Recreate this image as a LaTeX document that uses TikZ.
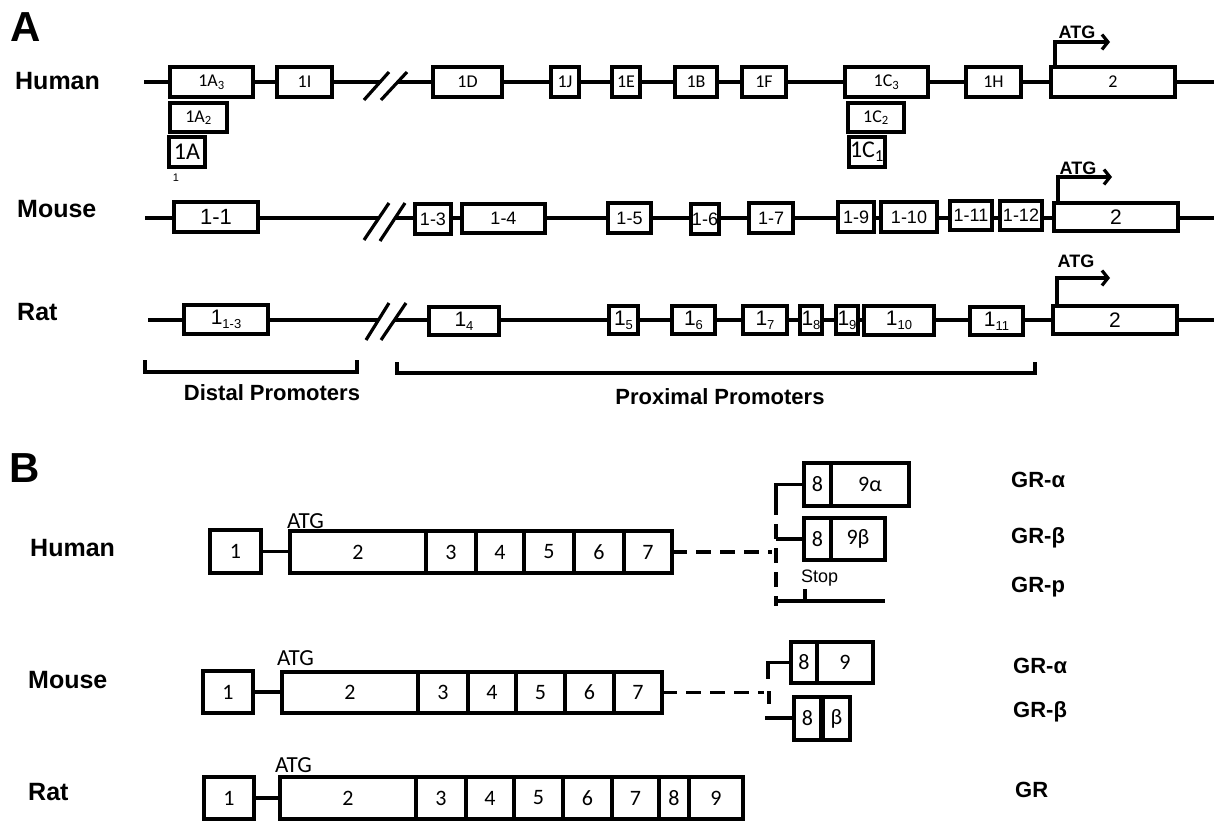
\documentclass[tikz,border=0pt]{standalone}
\usepackage{fontspec}
\setmainfont{Liberation Sans}
\newfontfamily\carl{Carlito}
\usetikzlibrary{arrows.meta,backgrounds}
\newcommand\fsz[1]{\fontsize{#1}{#1}\selectfont}
\newcommand\rsub[1]{\raisebox{-4pt}{\fsz{13}#1}}
\newcommand\gx[7][]{\node[exon,#1,minimum width={(#4)-(#3)},minimum height={(#6)-(#5)}] (#2) at ({((#3)+(#4))/2},{((#5)+(#6))/2}) {#7};}
\begin{document}
\begin{tikzpicture}[x=1pt,y=-1pt,
  exon/.style={draw,line width=3.2pt,fill=white,inner sep=0pt,outer sep=0pt},
  ah/.style={font=\carl\fsz{18}},
  ahbig/.style={font=\carl\fsz{24}},
  am/.style={font=\fsz{18}},
  ar/.style={font=\fsz{21}},
  bx/.style={font=\carl\fsz{22}},
  bb/.style={line width=3.2pt},
  conn/.style={line width=3.2pt},
  dashline/.style={line width=3.2pt,dash pattern=on 15pt off 9pt},
  atg/.style={line width=3.2pt,-{Straight Barb[length=6pt,width=15pt]}},
  rowlab/.style={font=\bfseries\fsz{25},anchor=west,inner sep=0pt},
  promo/.style={font=\bfseries\fsz{22},inner sep=0pt},
  grlab/.style={font=\bfseries\fsz{22},anchor=west,inner sep=0pt},
  atgA/.style={font=\bfseries\fsz{18},inner sep=0pt},
  atgB/.style={font=\carl\fsz{23},anchor=west,inner sep=0pt},
  panel/.style={font=\bfseries\fsz{42},inner sep=0pt}]
\useasboundingbox (0,0) rectangle (1216,823);
% ---------------- Panel A ----------------
\node[panel] (pA) at (26,27) {A};
% Human
\node[rowlab] (lhA) at (15,81) {Human};
\gx[ah]{hA3}{170}{253}{67}{97}{1A\textsubscript{3}}
\gx[ah]{hI}{277}{332}{67}{97}{1I}
\gx[ah]{hD}{433}{502}{67}{97}{1D}
\gx[ah]{hJ}{551}{579}{67}{97}{1J}
\gx[ah]{hE}{612}{640}{67}{97}{1E}
\gx[ah]{hB}{675}{717}{67}{97}{1B}
\gx[ah]{hF}{742}{786}{67}{97}{1F}
\gx[ah]{hC3}{845}{928}{67}{97}{1C\textsubscript{3}}
\gx[ah]{hH}{966}{1021}{67}{97}{1H}
\gx[ah]{h2}{1051}{1175}{67}{97}{2}
\gx[ah]{hA2}{170}{227}{103}{132}{1A\textsubscript{2}}
\gx[ahbig]{hA1}{169}{205}{137}{167}{1A}
\node[font=\fsz{11},inner sep=0pt] (hA1s) at (176,178) {1};
\gx[ah]{hC2}{848}{904}{103}{132}{1C\textsubscript{2}}
\gx[ahbig]{hC1}{849}{885}{137}{167}{1C\textsubscript{1}}
\coordinate (hL) at (144,82); \coordinate (hb1) at (380,82);
\coordinate (hb2) at (398,82); \coordinate (hR) at (1214,82);
\begin{scope}[on background layer]
\draw[bb] (hL) -- (hb1); \draw[bb] (hb2) -- (hR);
\end{scope}
\draw[bb] (364,100) -- (389,72);
\draw[bb] (381,100) -- (407,72);
\draw[atg] ([xshift=4pt]h2.north west) -- ++(0,-25) -- ++(55,0);
\node[atgA] (hatg) at (1077,32) {ATG};
% Mouse
\node[rowlab] (lmA) at (17,209) {Mouse};
\gx[am,font=\fsz{22}]{m1}{174}{258}{202}{232}{1-1}
\gx[am]{m3}{415}{451}{204}{234}{1-3}
\gx[am]{m4}{462}{545}{204}{233}{1-4}
\gx[am]{m5}{608}{651}{203}{233}{1-5}
\gx[am]{m6}{691}{719}{204}{234}{1-6}
\gx[am]{m7}{749}{793}{203}{233}{1-7}
\gx[am]{m9}{838}{874}{202}{232}{1-9}
\gx[am]{m10}{881}{937}{202}{232}{1-10}
\gx[am]{m11}{950}{992}{201}{230}{1-11}
\gx[am]{m12}{1000}{1042}{201}{230}{1-12}
\gx[am,font=\fsz{21}]{m2}{1054}{1178}{203}{231}{2}
\coordinate (mL) at (145,218); \coordinate (mb1) at (379,218);
\coordinate (mb2) at (395,218); \coordinate (mR) at (1214,218);
\begin{scope}[on background layer]
\draw[bb] (mL) -- (mb1); \draw[bb] (mb2) -- (mR);
\end{scope}
\draw[bb] (364,240) -- (389,203);
\draw[bb] (380,241) -- (405,203);
\draw[atg] ([xshift=4pt]m2.north west) -- ++(0,-26) -- ++(54,0);
\node[atgA] (matg) at (1078,168) {ATG};
% Rat
\node[rowlab] (lrA) at (17,312) {Rat};
\gx[ar]{r13}{184}{268}{305}{334}{1\rsub{1-3}}
\gx[ar]{r4}{429}{499}{307}{335}{1\rsub{4}}
\gx[ar]{r5}{609}{638}{306}{334}{1\rsub{5}}
\gx[ar]{r6}{672}{715}{306}{334}{1\rsub{6}}
\gx[ar]{r7}{743}{787}{306}{334}{1\rsub{7}}
\gx[ar]{r8}{800}{822}{306}{334}{1\rsub{8}}
\gx[ar]{r9}{836}{858}{306}{334}{1\rsub{9}}
\gx[ar]{r10}{864}{934}{306}{335}{1\rsub{10}}
\gx[ar]{r11}{970}{1023}{307}{335}{1\rsub{11}}
\gx[ar]{r2}{1053}{1177}{306}{334}{2}
\coordinate (rL) at (148,320); \coordinate (rb1) at (378,320);
\coordinate (rb2) at (394,320); \coordinate (rR) at (1214,320);
\begin{scope}[on background layer]
\draw[bb] (rL) -- (rb1); \draw[bb] (rb2) -- (rR);
\end{scope}
\draw[bb] (366,340) -- (389,303);
\draw[bb] (381,340) -- (406,303);
\draw[atg] ([xshift=4pt]r2.north west) -- ++(0,-28) -- ++(53,0);
\node[atgA] (ratg) at (1076,261) {ATG};
% brackets
\draw[bb] (145,360) -- (145,372) -- (357,372) -- (357,360);
\node[promo] (dist) at (272,393) {Distal Promoters};
\draw[bb] (397,362) -- (397,373) -- (1035,373) -- (1035,362);
\node[promo] (prox) at (720,397) {Proximal Promoters};
% ---------------- Panel B ----------------
\node[panel] (pB) at (25,468) {B};
% Human
\node[rowlab] (lhB) at (30,548) {Human};
\gx[bx]{b1}{210}{261}{530}{573}{1}
\gx[bx]{b2}{290}{426}{531}{573}{2}
\gx[bx]{b3}{426}{476}{531}{573}{3}
\gx[bx]{b4}{476}{524}{531}{573}{4}
\gx[bx]{b5}{524}{574}{531}{573}{5}
\gx[bx]{b6}{574}{624}{531}{573}{6}
\gx[bx]{b7}{624}{672}{531}{573}{7}
\draw[conn] (b1.east) -- (b1.east -| b2.west);
\node[atgB] (batgh) at (287,521) {ATG};
\gx[bx]{ha8}{804}{831}{463}{506}{8}
\gx[bx]{ha9}{831}{909}{463}{506}{9α}
\gx[bx]{hb8}{804}{831}{518}{560}{8}
\gx[bx]{hb9}{831}{885}{518}{560}{9β}
\coordinate (hvs) at (776,500); \coordinate (hvb) at (776,606);
\coordinate (hdE) at (772,552);
\draw[dashline] (b7.east) -- (hdE);
\draw[conn] (ha8.west) -| (hvs);
\draw[dashline] (hvs) -- (hvb);
\draw[conn] (hb8.west) -- (hb8.west -| hvs);
\coordinate (hsL) at (776,601); \coordinate (hsR) at (885,601);
\draw[conn] (hsL) -- (hsR);
\coordinate (hst) at (805,589);
\draw[conn] (hst) -- (hst |- hsL);
\node[font=\fsz{18},anchor=west,inner sep=0pt] (stop) at (801,578) {Stop};
\node[grlab] (gha) at (1011,480) {GR-α};
\node[grlab] (ghb) at (1011,538) {GR-β};
\node[grlab] (ghp) at (1011,587) {GR-p};
% Mouse
\node[rowlab] (lmB) at (28,680) {Mouse};
\gx[bx]{c1}{203}{253}{671}{713}{1}
\gx[bx]{c2}{282}{418}{672}{713}{2}
\gx[bx]{c3}{418}{468}{672}{713}{3}
\gx[bx]{c4}{468}{516}{672}{713}{4}
\gx[bx]{c5}{516}{565}{672}{713}{5}
\gx[bx]{c6}{565}{614}{672}{713}{6}
\gx[bx]{c7}{614}{662}{672}{713}{7}
\draw[conn] (c1.east) -- (c1.east -| c2.west);
\node[atgB] (batgm) at (277,658) {ATG};
\gx[bx]{ma8}{791}{817}{642}{683}{8}
\gx[bx]{ma9}{817}{873}{642}{683}{9}
\gx[bx]{mb8}{794}{821}{697}{740}{8}
\gx[bx]{mbb}{823}{850}{697}{740}{β}
\coordinate (mvb) at (768,679);
\draw[conn] (ma8.west) -| (mvb);
\coordinate (mdE) at (764,692.5);
\draw[dashline] (c7.east) -- (mdE);
\coordinate (mt1) at (769,691); \coordinate (mt2) at (769,704);
\draw[conn] (mt1) -- (mt2);
\coordinate (mbL) at (765,718);
\draw[conn] (mbL) -- (mbL -| mb8.west);
\node[grlab] (gma) at (1013,666) {GR-α};
\node[grlab] (gmb) at (1013,712) {GR-β};
% Rat
\node[rowlab] (lrB) at (28,792) {Rat};
\gx[bx]{d1}{204}{254}{777}{819}{1}
\gx[bx]{d2}{280}{416}{777}{819}{2}
\gx[bx]{d3}{416}{466}{777}{819}{3}
\gx[bx]{d4}{466}{514}{777}{819}{4}
\gx[bx]{d5}{514}{563}{777}{819}{5}
\gx[bx]{d6}{563}{612}{777}{819}{6}
\gx[bx]{d7}{612}{659}{777}{819}{7}
\gx[bx]{d8}{659}{689}{777}{819}{8}
\gx[bx]{d9}{689}{743}{777}{819}{9}
\draw[conn] (d1.east) -- (d1.east -| d2.west);
\node[atgB] (batgr) at (275,765) {ATG};
\node[grlab] (grr) at (1015,790) {GR};
\end{tikzpicture}
\end{document}
